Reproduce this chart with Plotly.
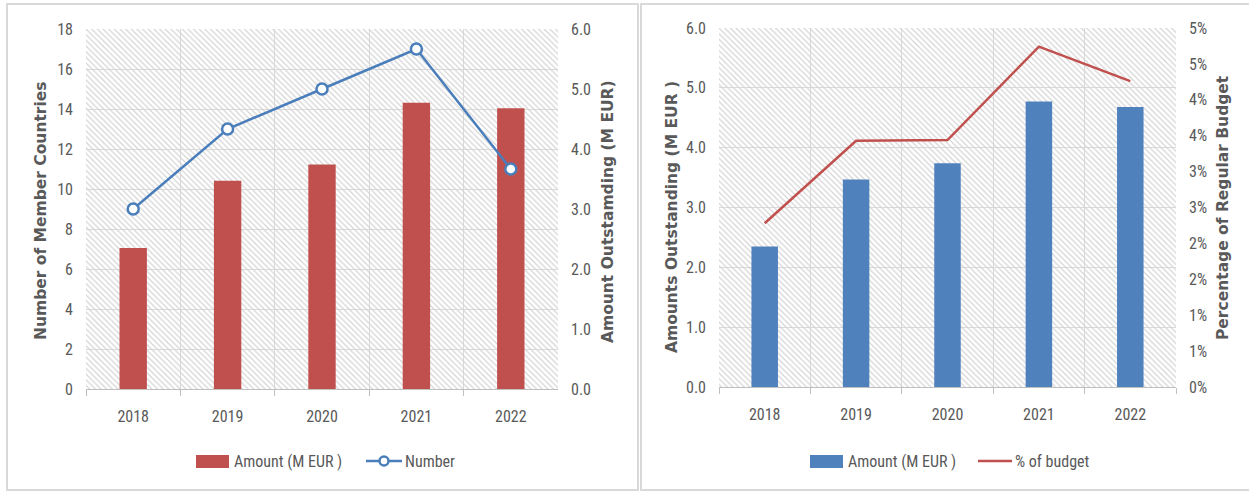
import plotly.graph_objects as go

# ---- data -------------------------------------------------------------
years = ["2018", "2019", "2020", "2021", "2022"]
amount_meur = [2.35, 3.47, 3.74, 4.77, 4.68]          # amounts outstanding (M EUR)
member_countries = [9, 13, 15, 17, 11]                 # number of member countries in arrears
pct_of_budget = [0.0228, 0.0343, 0.0344, 0.0474, 0.0426]  # share of regular budget

left_count_ticks = [0, 2, 4, 6, 8, 10, 12, 14, 16, 18]
amount_ticks = [0, 1, 2, 3, 4, 5, 6]
pct_tick_vals = [0.0, 0.005, 0.01, 0.015, 0.02, 0.025, 0.03, 0.035, 0.04, 0.045, 0.05]
pct_tick_text = ["0%", "1%", "1%", "2%", "2%", "3%", "3%", "4%", "4%", "5%", "5%"]

# ---- styling ----------------------------------------------------------
W, H = 1249, 493
RED = "#c0504d"
BLUE_BAR = "#4f81bd"
BLUE_LINE = "#4a7ebb"
GRID = "#d9d9d9"
TEXT = "#595959"
NARROW = "Liberation Sans Narrow, Roboto Condensed, Arial Narrow, Liberation Sans, sans-serif"
TITLE_FONT = dict(family="DejaVu Sans, Verdana, sans-serif", size=15.5, color=TEXT,
                  weight="bold")
TICK_FONT = dict(family=NARROW, size=16, color=TEXT)


def px_x(x):
    return x / W


def px_y(y):
    return 1 - y / H


left_dom_x = [px_x(86), px_x(558)]
left_dom_y = [px_y(389), px_y(29)]
right_dom_x = [px_x(719), px_x(1176)]
right_dom_y = [px_y(387), px_y(28)]

fig = go.Figure()

hatch = dict(shape="\\", fgcolor="#d4d4d4", bgcolor="rgba(0,0,0,0)",
             size=4, solidity=0.3, fillmode="replace")


def add_hatch(xa, ya, top):
    # diagonal-hatched backdrop filling the plotting area
    fig.add_trace(go.Bar(
        x=years, y=[top] * len(years), width=1.0, xaxis=xa, yaxis=ya,
        marker=dict(color="rgba(0,0,0,0)", line=dict(width=0), pattern=hatch),
        hoverinfo="skip", showlegend=False))


# ---- left chart -------------------------------------------------------
add_hatch("x", "y", max(left_count_ticks))
fig.add_trace(go.Bar(
    x=years, y=amount_meur, width=0.29, xaxis="x", yaxis="y2",
    marker=dict(color=RED, line=dict(width=0)), name="Amount (M EUR )",
    showlegend=False))
fig.add_trace(go.Scatter(
    x=years, y=member_countries, xaxis="x", yaxis="y3", mode="lines+markers",
    line=dict(color=BLUE_LINE, width=2.5),
    marker=dict(symbol="circle", size=11, color="white",
                line=dict(color=BLUE_LINE, width=2.5)),
    name="Number", showlegend=False))

# ---- right chart ------------------------------------------------------
add_hatch("x2", "y4", max(amount_ticks))
fig.add_trace(go.Bar(
    x=years, y=amount_meur, width=0.29, xaxis="x2", yaxis="y4",
    marker=dict(color=BLUE_BAR, line=dict(width=0)), name="Amount (M EUR )",
    showlegend=False))
fig.add_trace(go.Scatter(
    x=years, y=pct_of_budget, xaxis="x2", yaxis="y5", mode="lines",
    line=dict(color=RED, width=2.5), name="% of budget", showlegend=False))

xcommon = dict(type="category", categoryorder="array", categoryarray=years,
               range=[-0.5, 4.5], tickson="boundaries", showgrid=True,
               gridcolor=GRID, gridwidth=1, showline=True, linecolor="#bfbfbf",
               linewidth=1, ticks="outside", ticklen=6, tickcolor="#bfbfbf",
               tickfont=TICK_FONT, ticklabelstandoff=13, zeroline=False,
               fixedrange=True, automargin=False)
ycommon = dict(showline=False, zeroline=False, ticks="", tickfont=TICK_FONT,
               ticklabelstandoff=12, fixedrange=True, automargin=False)

fig.update_layout(
    width=W, height=H, margin=dict(l=0, r=0, t=0, b=0, pad=0, autoexpand=False),
    autosize=False,
    paper_bgcolor="white", plot_bgcolor="white", barmode="overlay",
    showlegend=False,
    xaxis=dict(xcommon, domain=left_dom_x, anchor="y"),
    yaxis=dict(ycommon, domain=left_dom_y, anchor="x", range=[0, 18],
               tickvals=left_count_ticks, showgrid=True, gridcolor=GRID),
    yaxis2=dict(ycommon, overlaying="y", side="right", anchor="x",
                range=[0, 6], tickvals=amount_ticks, tickformat=".1f",
                showgrid=False),
    yaxis3=dict(overlaying="y", anchor="x", range=[0, 18], visible=False,
                fixedrange=True, automargin=False),
    xaxis2=dict(xcommon, domain=right_dom_x, anchor="y4"),
    yaxis4=dict(ycommon, domain=right_dom_y, anchor="x2", range=[0, 6],
                tickvals=amount_ticks, tickformat=".1f", showgrid=True,
                gridcolor=GRID),
    yaxis5=dict(ycommon, overlaying="y4", side="right", anchor="x2",
                range=[0, 0.05], tickvals=pct_tick_vals, ticktext=pct_tick_text,
                showgrid=False),
)

# ---- axis titles ------------------------------------------------------
titles = [
    ("Number of Member Countries", 41, 211),
    ("Amount Outstamding (M EUR)", 608, 212),
    ("Amounts Outstanding (M EUR )", 672, 217),
    ("Percentage of Regular Budget", 1223, 208),
]
for text, x, y in titles:
    fig.add_annotation(text=text, x=px_x(x), y=px_y(y), xref="paper", yref="paper",
                       textangle=-90, showarrow=False, font=TITLE_FONT,
                       xanchor="center", yanchor="middle")

# ---- panel frames -----------------------------------------------------
for x0, x1 in [(7, 638), (641, 1252)]:
    fig.add_shape(type="rect", xref="paper", yref="paper",
                  x0=px_x(x0), x1=px_x(x1), y0=px_y(490), y1=px_y(4),
                  line=dict(color=GRID, width=2), layer="below")

# ---- legends ----------------------------------------------------------
LEG_Y = 461
LEG_FONT = dict(family=NARROW, size=16, color=TEXT)


def legend_box(x0, x1, color, label):
    fig.add_shape(type="rect", xref="paper", yref="paper",
                  x0=px_x(x0), x1=px_x(x1), y0=px_y(LEG_Y + 7), y1=px_y(LEG_Y - 6),
                  fillcolor=color, line=dict(width=0))
    fig.add_annotation(text=label, x=px_x(x1 + 3), y=px_y(LEG_Y), xref="paper",
                       yref="paper", showarrow=False, xanchor="left",
                       yanchor="middle", font=LEG_FONT)


def legend_line(x0, x1, color, label, marker=False):
    fig.add_shape(type="line", xref="paper", yref="paper",
                  x0=px_x(x0), x1=px_x(x1), y0=px_y(LEG_Y), y1=px_y(LEG_Y),
                  line=dict(color=color, width=2.5))
    if marker:
        cx = (x0 + x1) / 2
        fig.add_shape(type="circle", xref="paper", yref="paper",
                      x0=px_x(cx - 4.5), x1=px_x(cx + 4.5),
                      y0=px_y(LEG_Y + 4.5), y1=px_y(LEG_Y - 4.5),
                      fillcolor="white", line=dict(color=color, width=2.5))
    fig.add_annotation(text=label, x=px_x(x1 + 1), y=px_y(LEG_Y), xref="paper",
                       yref="paper", showarrow=False, xanchor="left",
                       yanchor="middle", font=LEG_FONT)


legend_box(196, 229, RED, "Amount (M EUR )")
legend_line(366, 402, BLUE_LINE, "Number", marker=True)
legend_box(810, 843, BLUE_BAR, "Amount (M EUR )")
legend_line(978, 1012, RED, "% of budget")

fig.write_html("out.html")
